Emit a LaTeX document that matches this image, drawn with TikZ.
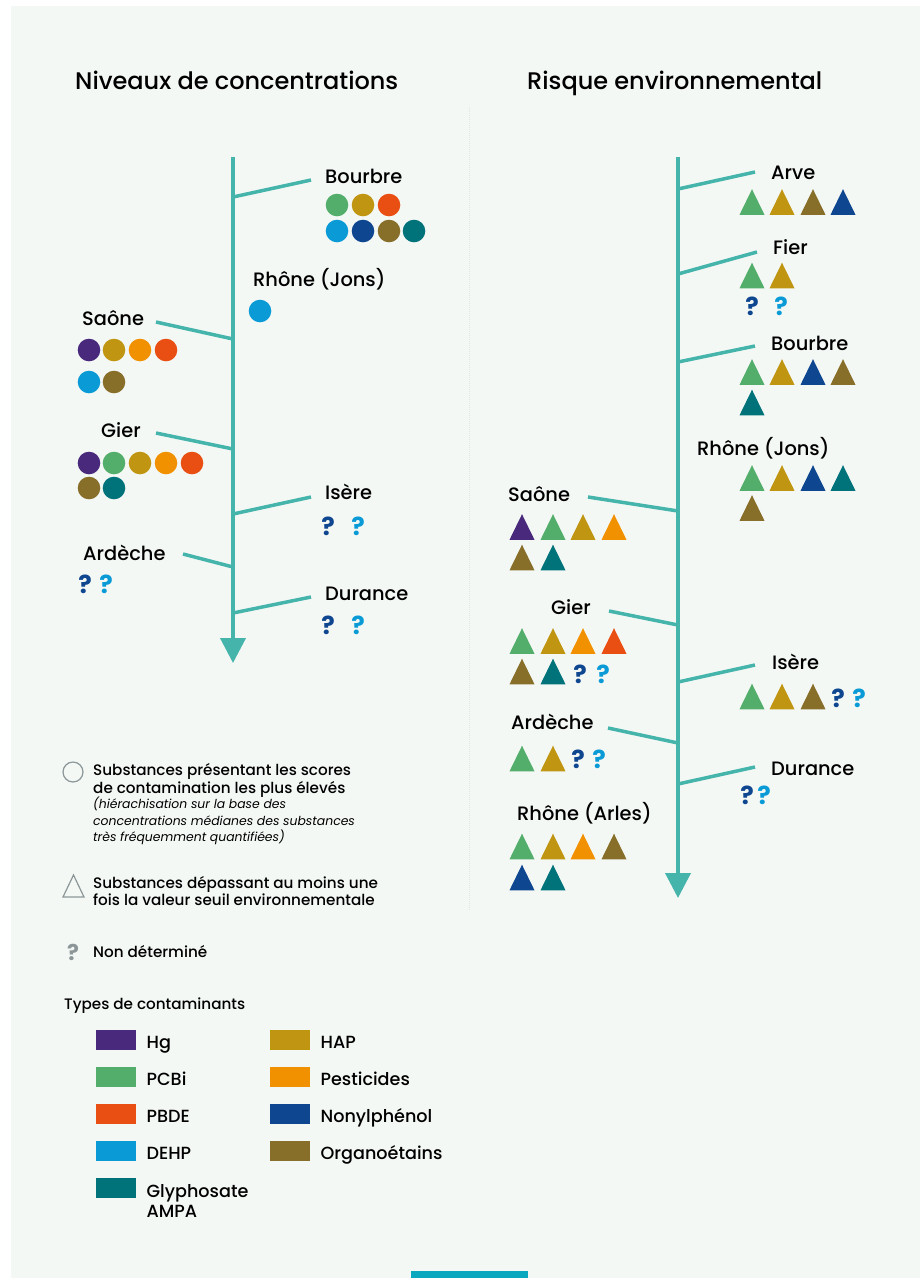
\documentclass[tikz,border=0pt]{standalone}
\usepackage{fontspec}
\setmainfont{Poppins}
\IfFontExistsTF{Poppins Medium}{\newfontfamily\medium{Poppins Medium}}{\newfontfamily\medium{Poppins}}
\usetikzlibrary{positioning,arrows.meta}

\definecolor{hg}{HTML}{48297B}
\definecolor{pcbi}{HTML}{52AE6A}
\definecolor{pbde}{HTML}{E94E13}
\definecolor{dehp}{HTML}{0A9BD7}
\definecolor{glypho}{HTML}{00727A}
\definecolor{hap}{HTML}{C09512}
\definecolor{pesti}{HTML}{F29100}
\definecolor{nonyl}{HTML}{0E4690}
\definecolor{organo}{HTML}{876F2A}
\definecolor{courant}{HTML}{45B5AC}
\definecolor{fond}{HTML}{F4F8F5}
\definecolor{gris}{HTML}{8C9698}
\definecolor{onglet}{HTML}{0AA8BE}

% markers: x, y, colour
\newcommand{\pastille}[3]{\fill[#3] (#1,#2) circle (11.3pt);}
\newcommand{\balise}[3]{\fill[#3] (#1,#2) ++(-12.5,12.8) -- ++(25,0) -- ++(-12.5,-25.6) -- cycle;}

\tikzset{
  tronc/.style={courant,line width=4pt,-{Triangle[length=25pt,width=25pt]}},
  branche/.style={courant,line width=3.5pt},
  titre/.style={anchor=base west,inner sep=0pt,font=\medium\fontsize{24}{24}\selectfont},
  nom/.style={anchor=base west,inner sep=0pt,font=\medium\fontsize{19.4}{19.4}\selectfont},
  quest/.style={inner sep=0pt,text=#1,font=\fontsize{25}{25}\selectfont\bfseries},
  legtxt/.style={anchor=base west,inner sep=0pt,font=\medium\fontsize{15.2}{15.2}\selectfont},
  legit/.style={anchor=base west,inner sep=0pt,font=\fontsize{12.4}{12.4}\selectfont\itshape},
  carre/.style={fill=#1,minimum width=40pt,minimum height=20pt,inner sep=0pt,anchor=north west},
  typetxt/.style={anchor=base west,inner sep=0pt,font=\medium\fontsize{17.6}{17.6}\selectfont}
}

\begin{document}
\begin{tikzpicture}[x=1pt,y=-1pt]
\useasboundingbox (0,0) rectangle (923,1278);
\fill[white] (0,0) rectangle (923,1278);
\fill[fond] (11,6) rectangle (920,1278);
\fill[onglet] (411,1271) rectangle (528,1278);
\draw[gris!25,line width=1pt,dash pattern=on 1pt off 1pt] (469,107) -- (469,910);

\node[titre] (titreA) at (75,89) {Niveaux de concentrations};
\node[titre] (titreB) at (527,89) {Risque environnemental};

% ---- niveaux de concentrations
\coordinate (Lhaut) at (233,157);
\coordinate (Lbas) at (233,663);
\draw[tronc] (Lhaut) -- (Lbas);

\coordinate (L1a) at (233,197); \coordinate (L1b) at (311,180);
\coordinate (L3a) at (156,322); \coordinate (L3b) at (233,339);
\coordinate (L4a) at (156,433); \coordinate (L4b) at (233,449);
\coordinate (L5a) at (233,514); \coordinate (L5b) at (311,497);
\coordinate (L6a) at (183,554); \coordinate (L6b) at (233,567);
\coordinate (L7a) at (233,613); \coordinate (L7b) at (311,597);
\draw[branche] (L1a) -- (L1b);
\draw[branche] (L3a) -- (L3b);
\draw[branche] (L4a) -- (L4b);
\draw[branche] (L5a) -- (L5b);
\draw[branche] (L6a) -- (L6b);
\draw[branche] (L7a) -- (L7b);

\node[nom] (Lbourbre) at (325,183) {Bourbre};
\pastille{337}{205}{pcbi} \pastille{363}{205}{hap} \pastille{389}{205}{pbde}
\pastille{337}{231}{dehp} \pastille{363}{231}{nonyl} \pastille{389}{231}{organo} \pastille{414}{231}{glypho}

\node[nom] (Ljons) at (253,286) {Rhône (Jons)};
\pastille{260}{311}{dehp}

\node[nom] (Lsaone) at (82,325) {Saône};
\pastille{89}{350}{hg} \pastille{114}{350}{hap} \pastille{140}{350}{pesti} \pastille{166}{350}{pbde}
\pastille{89}{382}{dehp} \pastille{114}{382}{organo}

\node[nom] (Lgier) at (101,437) {Gier};
\pastille{89}{463}{hg} \pastille{114}{463}{pcbi} \pastille{140}{463}{hap} \pastille{166}{463}{pesti} \pastille{192}{463}{pbde}
\pastille{89}{488}{organo} \pastille{114}{488}{glypho}

\node[nom] (Lisere) at (325,499) {Isère};
\node[quest=nonyl] (Lq1) at (328,526) {?};
\node[quest=dehp] (Lq2) at (358,526) {?};

\node[nom] (Lardeche) at (83,560) {Ardèche};
\node[quest=nonyl] (Lq3) at (85,584) {?};
\node[quest=dehp] (Lq4) at (106,584) {?};

\node[nom] (Ldurance) at (325,600) {Durance};
\node[quest=nonyl] (Lq5) at (328,625) {?};
\node[quest=dehp] (Lq6) at (358,625) {?};

% ---- risque environnemental
\coordinate (Rhaut) at (678,157);
\coordinate (Rbas) at (678,898);
\draw[tronc] (Rhaut) -- (Rbas);

\coordinate (R1a) at (678,189); \coordinate (R1b) at (755,172);
\coordinate (R2a) at (678,274); \coordinate (R2b) at (757,252);
\coordinate (R3a) at (678,362); \coordinate (R3b) at (755,346);
\coordinate (R5a) at (588,497); \coordinate (R5b) at (678,511);
\coordinate (R6a) at (609,611); \coordinate (R6b) at (678,625);
\coordinate (R7a) at (678,682); \coordinate (R7b) at (755,665);
\coordinate (R8a) at (608,728); \coordinate (R8b) at (678,743);
\coordinate (R9a) at (678,784); \coordinate (R9b) at (755,767);
\draw[branche] (R1a) -- (R1b);
\draw[branche] (R2a) -- (R2b);
\draw[branche] (R3a) -- (R3b);
\draw[branche] (R5a) -- (R5b);
\draw[branche] (R6a) -- (R6b);
\draw[branche] (R7a) -- (R7b);
\draw[branche] (R8a) -- (R8b);
\draw[branche] (R9a) -- (R9b);

\node[nom] (Rarve) at (771,179) {Arve};
\balise{752}{202}{pcbi} \balise{782}{202}{hap} \balise{813}{202}{organo} \balise{843}{202}{nonyl}

\node[nom] (Rfier) at (773,254) {Fier};
\balise{752}{275.5}{pcbi} \balise{782}{275.5}{hap}
\node[quest=nonyl] (Rq1) at (752,306) {?};
\node[quest=dehp] (Rq2) at (781,306) {?};

\node[nom] (Rbourbre) at (771,350) {Bourbre};
\balise{752}{372}{pcbi} \balise{782}{372}{hap} \balise{813}{372}{nonyl} \balise{843}{372}{organo}
\balise{752}{402.5}{glypho}

\node[nom] (Rjons) at (697,455) {Rhône (Jons)};
\balise{752}{478}{pcbi} \balise{782}{478}{hap} \balise{813}{478}{nonyl} \balise{843}{478}{glypho}
\balise{752}{508}{organo}

\node[nom] (Rsaone) at (508,501) {Saône};
\balise{522}{527}{hg} \balise{553}{527}{pcbi} \balise{583}{527}{hap} \balise{614}{527}{pesti}
\balise{522}{557.5}{organo} \balise{553}{557.5}{glypho}

\node[nom] (Rgier) at (551,614) {Gier};
\balise{522}{641}{pcbi} \balise{553}{641}{hap} \balise{583}{641}{pesti} \balise{614}{641}{pbde}
\balise{522}{671.5}{organo} \balise{553}{671.5}{glypho}
\node[quest=nonyl] (Rq3) at (580,674) {?};
\node[quest=dehp] (Rq4) at (603,674) {?};

\node[nom] (Risere) at (772,669) {Isère};
\balise{752}{696.5}{pcbi} \balise{782}{696.5}{hap} \balise{813}{696.5}{organo}
\node[quest=nonyl] (Rq5) at (838,698) {?};
\node[quest=dehp] (Rq6) at (859,698) {?};

\node[nom] (Rardeche) at (511,729) {Ardèche};
\balise{522}{758.5}{pcbi} \balise{553}{758.5}{hap}
\node[quest=nonyl] (Rq7) at (578,759) {?};
\node[quest=dehp] (Rq8) at (599,759) {?};

\node[nom] (Rdurance) at (771,775) {Durance};
\node[quest=nonyl] (Rq9) at (747,795) {?};
\node[quest=dehp] (Rq10) at (764,795) {?};

\node[nom] (Rarles) at (517,820) {Rhône (Arles)};
\balise{522}{846.5}{pcbi} \balise{553}{846.5}{hap} \balise{583}{846.5}{pesti} \balise{614}{846.5}{organo}
\balise{522}{877.5}{nonyl} \balise{553}{877.5}{glypho}

% ---- legende
\draw[gris,line width=1.2pt] (73,772) circle (10pt);
\node[legtxt] (lg1) at (93,775) {Substances présentant les scores};
\node[legtxt] (lg2) at (93,793) {de contamination les plus élevés};
\node[legit] (lg3) at (93,808) {(hiérachisation sur la base des};
\node[legit] (lg4) at (93,825) {concentrations médianes des substances};
\node[legit] (lg5) at (93,841) {très fréquemment quantifiées)};

\draw[gris,line width=1.2pt] (63,897) -- (84,897) -- (73.5,875) -- cycle;
\node[legtxt] (lg6) at (93,888) {Substances dépassant au moins une};
\node[legtxt] (lg7) at (93,905) {fois la valeur seuil environnementale};

\node[quest=gris,font=\fontsize{22}{22}\selectfont\bfseries] (lgq) at (73,952) {?};
\node[legtxt] (lg8) at (93,957) {Non déterminé};

\node[legtxt] (types) at (64,1009) {Types de contaminants};

\node[carre=hg] (cHg) at (96,1030) {};
\node[carre=pcbi] (cPCBi) at (96,1067) {};
\node[carre=pbde] (cPBDE) at (96,1104) {};
\node[carre=dehp] (cDEHP) at (96,1141) {};
\node[carre=glypho] (cGly) at (96,1178) {};
\node[carre=hap] (cHAP) at (270,1030) {};
\node[carre=pesti] (cPest) at (270,1067) {};
\node[carre=nonyl] (cNonyl) at (270,1104) {};
\node[carre=organo] (cOrgano) at (270,1141) {};

\node[typetxt] (tHg) at ([xshift=10pt,yshift=2pt]cHg.south east) {Hg};
\node[typetxt] (tPCBi) at ([xshift=10pt,yshift=2pt]cPCBi.south east) {PCBi};
\node[typetxt] (tPBDE) at ([xshift=10pt,yshift=2pt]cPBDE.south east) {PBDE};
\node[typetxt] (tDEHP) at ([xshift=10pt,yshift=2pt]cDEHP.south east) {DEHP};
\node[typetxt] (tGly) at ([xshift=10pt,yshift=1pt]cGly.south east) {Glyphosate};
\node[typetxt] (tAMPA) at ([yshift=-20pt]tGly.base west) {AMPA};
\node[typetxt] (tHAP) at ([xshift=10pt,yshift=2pt]cHAP.south east) {HAP};
\node[typetxt] (tPest) at ([xshift=10pt,yshift=2pt]cPest.south east) {Pesticides};
\node[typetxt] (tNonyl) at ([xshift=10pt,yshift=2pt]cNonyl.south east) {Nonylphénol};
\node[typetxt] (tOrgano) at ([xshift=10pt,yshift=2pt]cOrgano.south east) {Organoétains};
\end{tikzpicture}
\end{document}
